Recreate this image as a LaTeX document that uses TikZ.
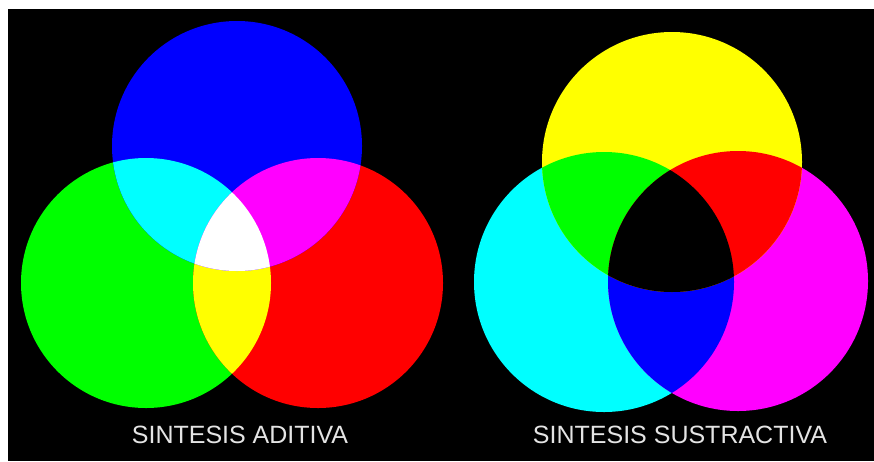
\documentclass[tikz,border=0pt]{standalone}
\usepackage{fontspec}
\setmainfont{Liberation Sans}
\definecolor{pureR}{RGB}{255,0,0}
\definecolor{pureG}{RGB}{0,255,0}
\definecolor{pureB}{RGB}{0,0,255}
\definecolor{pureC}{RGB}{0,255,255}
\definecolor{pureM}{RGB}{255,0,255}
\definecolor{pureY}{RGB}{255,255,0}
\definecolor{capgray}{RGB}{228,228,228}

\begin{document}
\begin{tikzpicture}[x=1pt,y=-1pt,
  caption/.style={text=capgray,font=\fontsize{25}{30}\selectfont,anchor=base,inner sep=0pt}]
\def\ra{125pt}
\def\rs{130pt}
\fill[white] (0,0) rectangle (874,461);
\fill[black] (8,9) rectangle (874,461);
% sintesis aditiva
\coordinate (blu) at (237,146);
\coordinate (grn) at (146,283);
\coordinate (red) at (318,283);
\fill[pureG] (grn) circle[radius=\ra];
\fill[pureR] (red) circle[radius=\ra];
\fill[pureB] (blu) circle[radius=\ra];
\begin{scope}
  \clip (grn) circle[radius=\ra];
  \fill[pureY] (red) circle[radius=\ra];
\end{scope}
\begin{scope}
  \clip (blu) circle[radius=\ra];
  \fill[pureC] (grn) circle[radius=\ra];
  \fill[pureM] (red) circle[radius=\ra];
  \clip (grn) circle[radius=\ra];
  \fill[white] (red) circle[radius=\ra];
\end{scope}
\node[caption] (aditiva) at (240,443) {SINTESIS ADITIVA};
% sintesis sustractiva
\coordinate (yel) at (672,162);
\coordinate (cya) at (604,282);
\coordinate (mag) at (738,281);
\fill[pureC] (cya) circle[radius=\rs];
\fill[pureM] (mag) circle[radius=\rs];
\fill[pureY] (yel) circle[radius=\rs];
\begin{scope}
  \clip (cya) circle[radius=\rs];
  \fill[pureB] (mag) circle[radius=\rs];
\end{scope}
\begin{scope}
  \clip (yel) circle[radius=\rs];
  \fill[pureG] (cya) circle[radius=\rs];
  \fill[pureR] (mag) circle[radius=\rs];
  \clip (cya) circle[radius=\rs];
  \fill[black] (mag) circle[radius=\rs];
\end{scope}
\node[caption] (sustractiva) at (680,443) {SINTESIS SUSTRACTIVA};
\end{tikzpicture}
\end{document}
